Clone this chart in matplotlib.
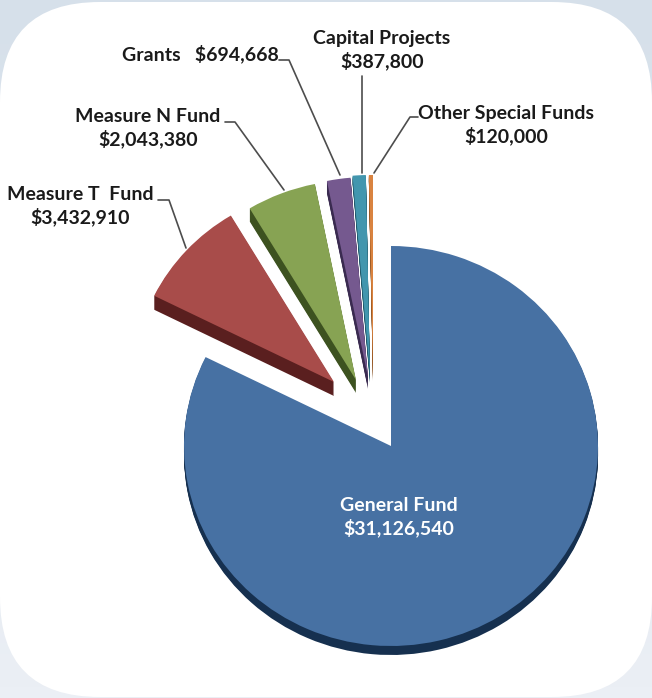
#!/usr/bin/env python3
# Budget pie with exploded slices, drawn on a rounded white card.
import numpy as np
import matplotlib
matplotlib.use("Agg")
import matplotlib.pyplot as plt
from matplotlib.patches import FancyBboxPatch, Wedge

W, H = 652, 698

funds = ["General Fund", "Measure T  Fund", "Measure N Fund", "Grants",
         "Capital Projects", "Other Special Funds"]
amounts = [31126540, 3432910, 2043380, 694668, 387800, 120000]
amount_labels = ["$31,126,540", "$3,432,910", "$2,043,380", "$694,668", "$387,800", "$120,000"]

colors = ["#4771a3", "#a84c4a", "#87a353", "#75598f", "#4296ae", "#d98340"]
dark_colors = ["#16304f", "#5a1f1f", "#3d5220", "#3a2b50", "#1d5566", "#7a4010"]

# pixel geometry of the pie
CX, CY = 391, 446
RX, RY = 207, 200
# per slice: shift from the pie centre (pixels), radius factor, side depth (pixels)
shifts = [(0, 0), (-57, 64), (-35, 66), (-23, 69), (-21, 71), (-18, 71)]
radii = [1, 0.97, 1, 1, 1, 1]
depths = [9, 14, 13, 12, 8, 6]

plt.rcParams["font.family"] = ["Lato", "DejaVu Sans"]
plt.rcParams["font.weight"] = "bold"

fig = plt.figure(figsize=(W / 100, H / 100), dpi=100)

# background and card
ax_bg = fig.add_axes([0, 0, 1, 1], zorder=0)
ax_bg.set_xlim(0, W)
ax_bg.set_ylim(H, 0)
ax_bg.axis("off")
grad = np.linspace(0, 1, 64).reshape(-1, 1)
cmap = matplotlib.colors.LinearSegmentedColormap.from_list("bg", ["#d6e0ea", "#ebeff5"])
ax_bg.imshow(grad, extent=(0, W, H, 0), cmap=cmap, aspect="auto")
card = FancyBboxPatch((100, 102), W - 200, H - 203, boxstyle="round,pad=100,rounding_size=100",
                      fc="white", ec="none")
ax_bg.add_patch(card)

# pie, one data unit = RX / RY pixels
ax = fig.add_axes([0, 0, 1, 1], zorder=1)
wedges, _ = ax.pie(amounts, colors=colors, startangle=90, counterclock=False, radius=1)
ax.set_aspect("auto")
ax.set_xlim(-CX / RX, (W - CX) / RX)
ax.set_ylim(-(H - CY) / RY, CY / RY)
for w, (dx, dy), r, depth, dark in zip(wedges, shifts, radii, depths, dark_colors):
    cx, cy = dx / RX, dy / RY
    w.set_center((cx, cy))
    w.set_radius(r)
    w.set_zorder(3)
    w.set_linewidth(0)
    # extruded side, stacked copies shifted down
    for d in range(1, depth + 1):
        side = Wedge((cx, cy - d / RY), r, w.theta1, w.theta2, fc=dark, ec="none", zorder=2)
        ax.add_patch(side)

# labels and leader lines
ax_top = fig.add_axes([0, 0, 1, 1], zorder=2)
ax_top.set_xlim(0, W)
ax_top.set_ylim(H, 0)
ax_top.axis("off")

txt = {"fontsize": 14, "color": "#1a1a1a", "ha": "center", "va": "center", "linespacing": 1.28}
ax_top.text(399, 517, f"{funds[0]}\n{amount_labels[0]}", **{**txt, "color": "white"})
ax_top.text(80, 206, f"{funds[1]}\n{amount_labels[1]}", **txt)
ax_top.text(148, 128, f"{funds[2]}\n{amount_labels[2]}", **txt)
ax_top.text(200, 54, f"{funds[3]}   {amount_labels[3]}", **txt)
ax_top.text(382, 50, f"{funds[4]}\n{amount_labels[4]}", **txt)
ax_top.text(506, 125, f"{funds[5]}\n{amount_labels[5]}", **txt)

leaders = [
    ([158, 169, 186], [200, 200, 248]),
    ([225, 235, 284], [122, 122, 190]),
    ([279, 289, 340], [60, 60, 175]),
    ([362, 362], [76, 173]),
    ([418, 410, 374], [117, 117, 173]),
]
for xs, ys in leaders:
    ax_top.plot(xs, ys, color="#4d4d4d", lw=1.2, solid_capstyle="round")

fig.savefig("out.png", dpi=100)
